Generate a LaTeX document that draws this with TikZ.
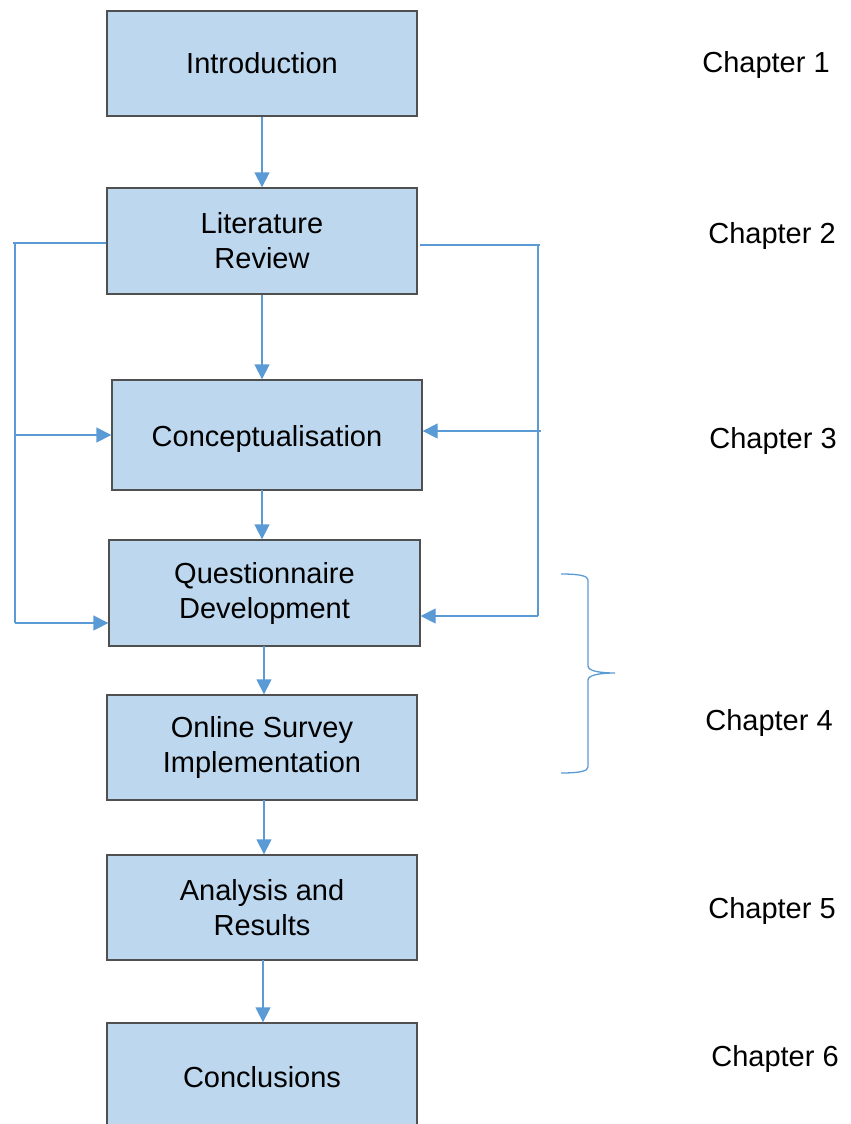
\documentclass[tikz,border=0pt]{standalone}
\usepackage{fontspec}
\setmainfont{Liberation Sans}
\usetikzlibrary{arrows.meta}
\definecolor{boxfill}{HTML}{BDD7EE}
\definecolor{boxline}{HTML}{505050}
\definecolor{conn}{HTML}{5B9BD5}
\begin{document}
\begin{tikzpicture}[x=1pt,y=-1pt,
  stage/.style={draw=boxline,line width=1.3pt,fill=boxfill,minimum width=310pt,minimum height=105pt,
    align=center,font=\fontsize{29}{35}\selectfont,inner sep=0pt},
  chap/.style={font=\fontsize{29}{35}\selectfont,inner sep=0pt},
  link/.style={draw=conn,line width=1.3pt},
  arr/.style={link,-{Triangle[length=15pt,width=15pt]}}]
\useasboundingbox (0,0) rectangle (851,1124);
\clip (0,0) rectangle (851,1124);
\node[stage] (intro) at (262,63.5) {Introduction};
\node[stage,minimum height=106pt] (lit) at (262,241) {Literature\\Review};
\node[stage,minimum height=110pt] (concept) at (267,435) {\raisebox{-4pt}[\height][\depth]{Conceptualisation}};
\node[stage,minimum height=106pt,minimum width=311pt] (quest) at (264.5,593) {Questionnaire\\Development};
\node[stage] (online) at (262,747.5) {Online Survey\\Implementation};
\node[stage] (analysis) at (262,907.5) {Analysis and\\Results};
\node[stage] (concl) at (262,1075.5) {\raisebox{-2pt}[\height][\depth]{Conclusions}};

\node[chap] (c1) at (766,65) {Chapter 1};
\node[chap] (c2) at (772,236) {Chapter 2};
\node[chap] (c3) at (773,441) {Chapter 3};
\node[chap] (c4) at (769,723) {Chapter 4};
\node[chap] (c5) at (772,911) {Chapter 5};
\node[chap] (c6) at (775,1059) {Chapter 6};

\draw[arr] (intro.south) -- (intro.south |- lit.north);
\draw[arr] (lit.south) -- (lit.south |- concept.north);
\draw[arr] (262,490) coordinate (cs) -- (cs |- quest.north);
\draw[arr] (264,646) coordinate (qs) -- (qs |- online.north);
\draw[arr] (264,800) coordinate (os) -- (os |- analysis.north);
\draw[arr] (263,960) coordinate (as) -- (as |- concl.north);

% left feedback
\coordinate (ltop) at (15,243);
\coordinate (lbot) at (15,623);
\draw[link] (lit.west |- ltop) -- (13,243);
\draw[link] (ltop) -- (lbot);
\draw[arr] (ltop |- concept.west) -- (concept.west);
\draw[arr] (lbot) -- (quest.west |- lbot);

% right feedback
\coordinate (rtop) at (538,245);
\coordinate (rbot) at (538,616);
\draw[link] (420,245) -- (540,245);
\draw[link] (rtop) -- (rbot);
\draw[arr] (541,431) -- (concept.east |- 0,431);
\draw[arr] (rbot) -- (quest.east |- rbot);

% brace
\draw[link] (561,574) .. controls (580,574) and (588,576) .. (588,580)
  -- (588,666) .. controls (588,671) and (600,673) .. (615,673)
  .. controls (600,673) and (588,675) .. (588,680)
  -- (588,767) .. controls (588,771) and (580,773) .. (561,773);
\end{tikzpicture}
\end{document}
